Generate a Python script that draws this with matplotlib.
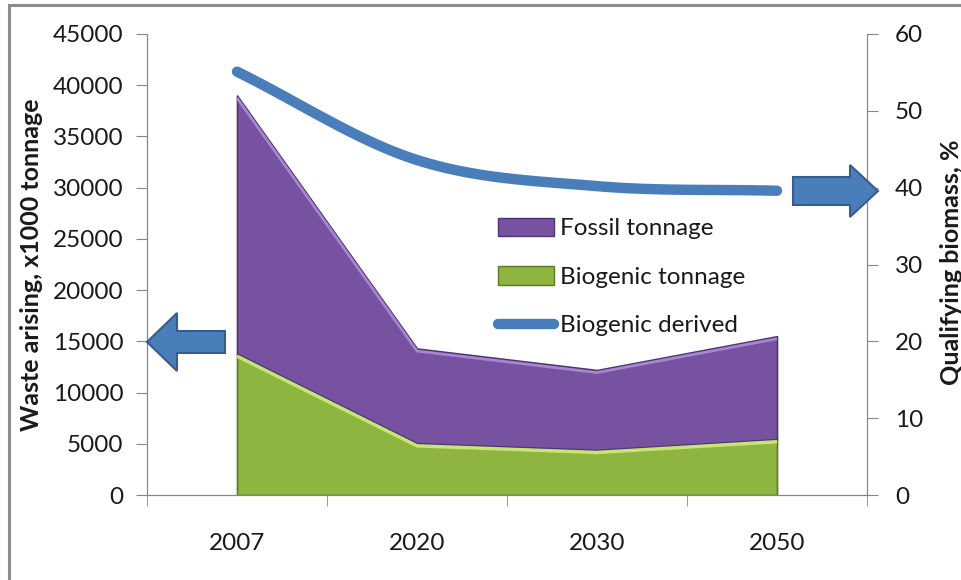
import numpy as np
import matplotlib
matplotlib.use("Agg")
import matplotlib.pyplot as plt
from matplotlib.patches import Rectangle, FancyArrow
from matplotlib.lines import Line2D
from matplotlib.patches import Patch

plt.rcParams['font.family'] = ['Lato', 'DejaVu Sans']

years = ["2007", "2020", "2030", "2050"]
biogenic = [13800, 5050, 4400, 5450]
fossil = [25200, 9250, 7800, 10050]
biogenic_pct = [55.1, 43.6, 40.2, 39.6]

left_ticks = [0, 5000, 10000, 15000, 20000, 25000, 30000, 35000, 40000, 45000]
right_ticks = [0, 10, 20, 30, 40, 50, 60]

fossil_c = '#7652a0'
fossil_edge = '#4e3470'
green_c = '#8db53f'
green_edge = '#5d7a26'
line_c = '#4a7ebb'
axis_c = '#868686'
text_c = '#1a1a1a'
FS = 17.5

fig = plt.figure(figsize=(9.62, 5.8), dpi=100)
ax = fig.add_axes([147/962, 1-495/580, 720/962, 461/580])
ax2 = ax.twinx()

x = np.arange(len(years))
total = np.array(biogenic) + np.array(fossil)
ax.fill_between(x, 0, biogenic, facecolor=green_c, edgecolor=green_edge, linewidth=1.2, zorder=2)
ax.fill_between(x, biogenic, total, facecolor=fossil_c, edgecolor=fossil_edge, linewidth=1.2, zorder=2)
# highlight on top edges
ax.plot(x, np.array(biogenic) - 250, color='#c8e476', lw=2.5, zorder=3, solid_capstyle='butt')
ax.plot(x, total - 250, color='#a686cf', lw=2.0, zorder=3, solid_capstyle='butt')

ax.set_xlim(-0.5, 3.5)
ax.set_ylim(0, 45000)
ax.set_yticks(left_ticks)
ax.set_yticklabels([str(t) for t in left_ticks], fontsize=FS, color=text_c)
ax.set_xticks(x)
ax.set_xticklabels(years, fontsize=FS, color=text_c)
ax.set_xticks(np.arange(-0.5, 4.0, 1.0), minor=True)
ax.tick_params(axis='x', which='major', length=0, pad=27)
ax.tick_params(axis='x', which='minor', length=8, color=axis_c, direction='out')
ax.tick_params(axis='y', length=8, color=axis_c, pad=9)
for s in ['top']:
    ax.spines[s].set_visible(False)
    ax2.spines[s].set_visible(False)
for s in ['left', 'bottom', 'right']:
    ax.spines[s].set_color(axis_c)
    ax2.spines[s].set_color(axis_c)
ax.set_ylabel("Waste arising, x1000 tonnage", fontsize=18, fontweight='bold', color=text_c)
ax.yaxis.set_label_coords(-0.145, 0.5)

# smoothed line (Catmull-Rom through data points)
def smooth(xs, ys, n=40):
    xs = np.asarray(xs, float); ys = np.asarray(ys, float)
    P = np.column_stack([xs, ys])
    P = np.vstack([P[0] - (P[1] - P[0]), P, P[-1] + (P[-1] - P[-2])])
    out = []
    for i in range(1, len(P) - 2):
        p0, p1, p2, p3 = P[i-1], P[i], P[i+1], P[i+2]
        t = np.linspace(0, 1, n)[:, None]
        pts = 0.5 * ((2*p1) + (-p0 + p2)*t + (2*p0 - 5*p1 + 4*p2 - p3)*t**2 + (-p0 + 3*p1 - 3*p2 + p3)*t**3)
        out.append(pts if i == 1 else pts[1:])
    out = np.vstack(out)
    return out[:, 0], out[:, 1]

sx, sy = smooth(x, biogenic_pct)
ax2.plot(sx, sy, color=line_c, lw=7.5, solid_capstyle='round', zorder=4)
ax2.set_ylim(0, 60)
ax2.set_yticks(right_ticks)
ax2.set_yticklabels([str(t) for t in right_ticks], fontsize=FS, color=text_c)
ax2.tick_params(axis='y', length=8, color=axis_c, pad=12)
ax2.set_ylabel("Qualifying biomass, %", fontsize=18, fontweight='bold', color=text_c)
ax2.yaxis.set_label_coords(1.1015, 0.505)

handles = [Patch(facecolor=fossil_c, edgecolor=fossil_edge, label='Fossil tonnage'),
           Patch(facecolor=green_c, edgecolor=green_edge, label='Biogenic tonnage'),
           Line2D([0], [0], color=line_c, lw=7.5, solid_capstyle='round', label='Biogenic derived')]
leg = fig.legend(handles=handles, loc='upper left', bbox_to_anchor=(488/962, 1-208/580),
                 frameon=False, fontsize=FS, handlelength=2.3, handleheight=0.8,
                 labelspacing=1.1, handletextpad=0.25, borderaxespad=0)
for t in leg.get_texts():
    t.set_color(text_c)

# arrows (figure coordinates)
def px(xp, yp):
    return xp/962, 1 - yp/580
a1 = FancyArrow(*px(225, 342), -78/962, 0, width=22/580, head_width=58/580,
                head_length=30/962, length_includes_head=True, transform=fig.transFigure,
                facecolor='#4a7ebb', edgecolor='#385d8a', lw=1.5)
a2 = FancyArrow(*px(793, 191), 85/962, 0, width=28/580, head_width=52/580,
                head_length=28/962, length_includes_head=True, transform=fig.transFigure,
                facecolor='#4a7ebb', edgecolor='#385d8a', lw=1.5)
fig.add_artist(a1)
fig.add_artist(a2)

# outer frame (only left and top edges fall inside the image)
fig.add_artist(Rectangle(px(9, 600), 1000/962, 595/580, transform=fig.transFigure,
                         fill=False, edgecolor='#8c8c8c', lw=2.2))

fig.savefig("out.png", dpi=100)
